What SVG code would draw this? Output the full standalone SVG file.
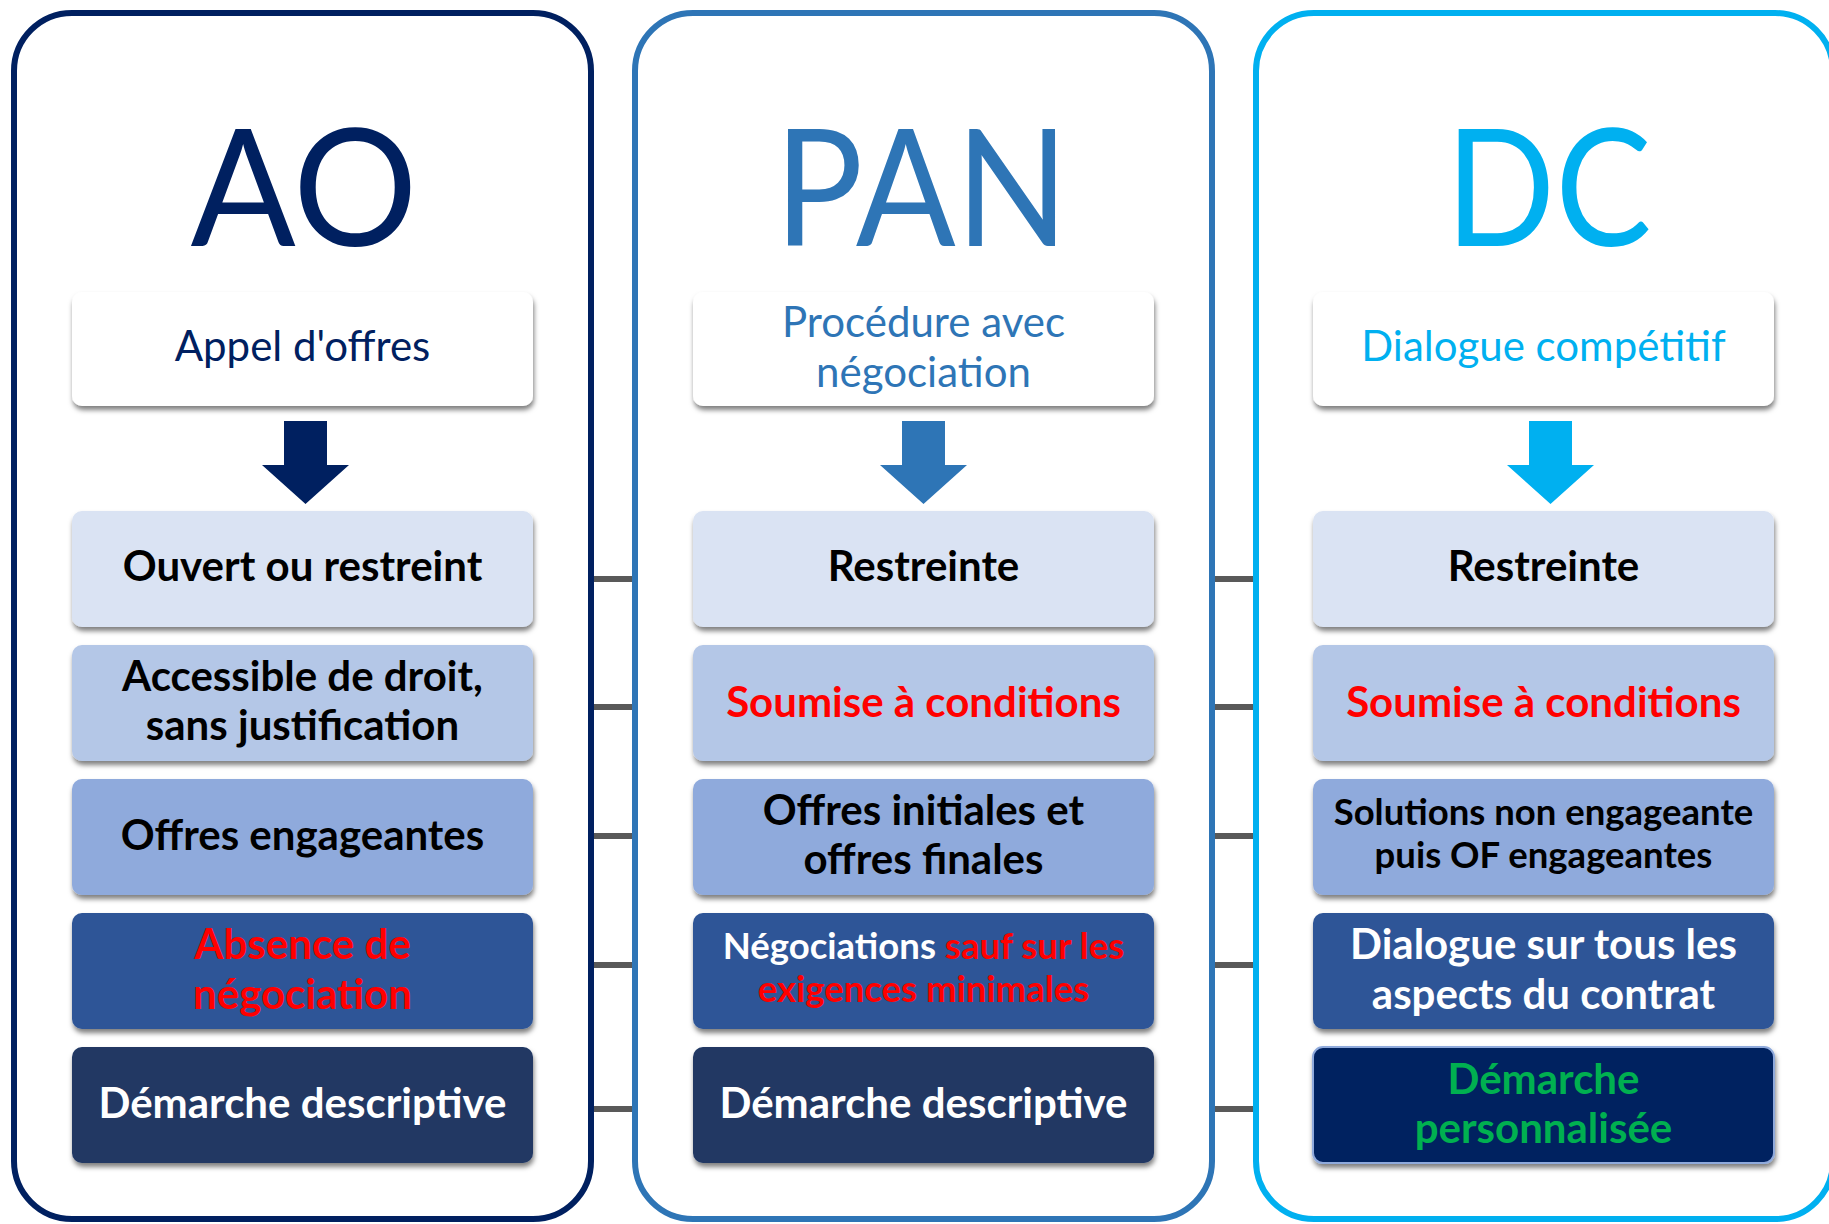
<svg xmlns="http://www.w3.org/2000/svg" width="1829" height="1224" viewBox="0 0 1829 1224">
<defs>
<filter id="sh" x="-10%" y="-20%" width="120%" height="150%">
<feDropShadow dx="1" dy="4" stdDeviation="2.5" flood-color="#000" flood-opacity="0.5"/>
</filter>
<style>
.panel{fill:#fff;stroke-width:6}
.hdr{fill:#fff}
.b1{fill:#DAE3F3}.b2{fill:#B4C7E7}.b3{fill:#8FAADC}.b4{fill:#2F5597}.b5{fill:#203864}.b5n{fill:#002060;stroke:#8FAADC;stroke-width:2}
text{font-family:Lato,"Open Sans","Liberation Sans",sans-serif;text-anchor:middle}
.title{font-size:163px}
.sub{font-size:42px}
.t{font-size:42px;font-weight:bold}
.ts{font-size:36.5px;font-weight:bold}
.k{fill:#000}.w{fill:#fff}.r{fill:#FF0000}.g{fill:#00B050}
.conn{stroke:#595959;stroke-width:6}
</style>
</defs>
<g id="connectors">
<line class="conn" x1="591" y1="579" x2="636" y2="579"/>
<line class="conn" x1="591" y1="707" x2="636" y2="707"/>
<line class="conn" x1="591" y1="836" x2="636" y2="836"/>
<line class="conn" x1="591" y1="965" x2="636" y2="965"/>
<line class="conn" x1="591" y1="1109" x2="636" y2="1109"/>
<line class="conn" x1="1212" y1="579" x2="1256" y2="579"/>
<line class="conn" x1="1212" y1="707" x2="1256" y2="707"/>
<line class="conn" x1="1212" y1="836" x2="1256" y2="836"/>
<line class="conn" x1="1212" y1="965" x2="1256" y2="965"/>
<line class="conn" x1="1212" y1="1109" x2="1256" y2="1109"/>
</g>
<g id="panel-ao">
<rect class="panel" x="14" y="13" width="577" height="1206" rx="58" stroke="#002060"/>
<text class="title" x="304" y="246" fill="#002060" textLength="227" lengthAdjust="spacingAndGlyphs">AO</text>
<rect class="hdr" x="72" y="292" width="461" height="114" rx="10" filter="url(#sh)"/>
<text class="sub" x="302.5" y="361" fill="#002060">Appel d'offres</text>
<polygon points="284,421 327,421 327,465 349,465 305.5,504 262,465 284,465" fill="#002060"/>
</g>
<g id="ao-1"><rect class="b1" x="72" y="511" width="461" height="116" rx="10" filter="url(#sh)"/><text class="t k" x="302.5" y="581">Ouvert ou restreint</text></g>
<g id="ao-2"><rect class="b2" x="72" y="645" width="461" height="116" rx="10" filter="url(#sh)"/><text class="t k" x="302.5" y="691">Accessible de droit,</text><text class="t k" x="302.5" y="740">sans justification</text></g>
<g id="ao-3"><rect class="b3" x="72" y="779" width="461" height="116" rx="10" filter="url(#sh)"/><text class="t k" x="302.5" y="850">Offres engageantes</text></g>
<g id="ao-4"><rect class="b4" x="72" y="913" width="461" height="116" rx="10" filter="url(#sh)"/><text class="t r" x="302.5" y="959">Absence de</text><text class="t r" x="302.5" y="1009">négociation</text></g>
<g id="ao-5"><rect class="b5" x="72" y="1047" width="461" height="116" rx="10" filter="url(#sh)"/><text class="t w" x="302.5" y="1118">Démarche descriptive</text></g>

<g id="panel-pan">
<rect class="panel" x="635" y="13" width="577" height="1206" rx="58" stroke="#2E75B6"/>
<text class="title" x="921.5" y="246" fill="#2E75B6" textLength="294" lengthAdjust="spacingAndGlyphs">PAN</text>
<rect class="hdr" x="693" y="292" width="461" height="114" rx="10" filter="url(#sh)"/>
<text class="sub" x="923.5" y="337" fill="#2E75B6">Procédure avec</text>
<text class="sub" x="923.5" y="387" fill="#2E75B6">négociation</text>
<polygon points="902,421 945,421 945,465 967,465 923.5,504 880,465 902,465" fill="#2E75B6"/>
</g>
<g id="pan-1"><rect class="b1" x="693" y="511" width="461" height="116" rx="10" filter="url(#sh)"/><text class="t k" x="923.5" y="581">Restreinte</text></g>
<g id="pan-2"><rect class="b2" x="693" y="645" width="461" height="116" rx="10" filter="url(#sh)"/><text class="t r" x="923.5" y="716.5">Soumise à conditions</text></g>
<g id="pan-3"><rect class="b3" x="693" y="779" width="461" height="116" rx="10" filter="url(#sh)"/><text class="t k" x="923.5" y="825">Offres initiales et</text><text class="t k" x="923.5" y="874">offres finales</text></g>
<g id="pan-4"><rect class="b4" x="693" y="913" width="461" height="116" rx="10" filter="url(#sh)"/><text class="ts" x="923.5" y="959"><tspan class="w">Négociations </tspan><tspan class="r">sauf sur les</tspan></text><text class="ts r" x="923.5" y="1002">exigences minimales</text></g>
<g id="pan-5"><rect class="b5" x="693" y="1047" width="461" height="116" rx="10" filter="url(#sh)"/><text class="t w" x="923.5" y="1118">Démarche descriptive</text></g>

<g id="panel-dc">
<rect class="panel" x="1256" y="13" width="577" height="1206" rx="58" stroke="#00B0F0"/>
<text class="title" x="1548.5" y="246" fill="#00B0F0" textLength="206" lengthAdjust="spacingAndGlyphs">DC</text>
<rect class="hdr" x="1313" y="292" width="461" height="114" rx="10" filter="url(#sh)"/>
<text class="sub" x="1543.5" y="361" fill="#00B0F0">Dialogue compétitif</text>
<polygon points="1529,421 1572,421 1572,465 1594,465 1550.5,504 1507,465 1529,465" fill="#00B0F0"/>
</g>
<g id="dc-1"><rect class="b1" x="1313" y="511" width="461" height="116" rx="10" filter="url(#sh)"/><text class="t k" x="1543.5" y="581">Restreinte</text></g>
<g id="dc-2"><rect class="b2" x="1313" y="645" width="461" height="116" rx="10" filter="url(#sh)"/><text class="t r" x="1543.5" y="716.5">Soumise à conditions</text></g>
<g id="dc-3"><rect class="b3" x="1313" y="779" width="461" height="116" rx="10" filter="url(#sh)"/><text class="ts k" x="1543.5" y="825">Solutions non engageante</text><text class="ts k" x="1543.5" y="868">puis OF engageantes</text></g>
<g id="dc-4"><rect class="b4" x="1313" y="913" width="461" height="116" rx="10" filter="url(#sh)"/><text class="t w" x="1543.5" y="959">Dialogue sur tous les</text><text class="t w" x="1543.5" y="1009">aspects du contrat</text></g>
<g id="dc-5"><rect class="b5n" x="1313" y="1047" width="461" height="116" rx="10" filter="url(#sh)"/><text class="t g" x="1543.5" y="1094">Démarche</text><text class="t g" x="1543.5" y="1143">personnalisée</text></g>
</svg>
